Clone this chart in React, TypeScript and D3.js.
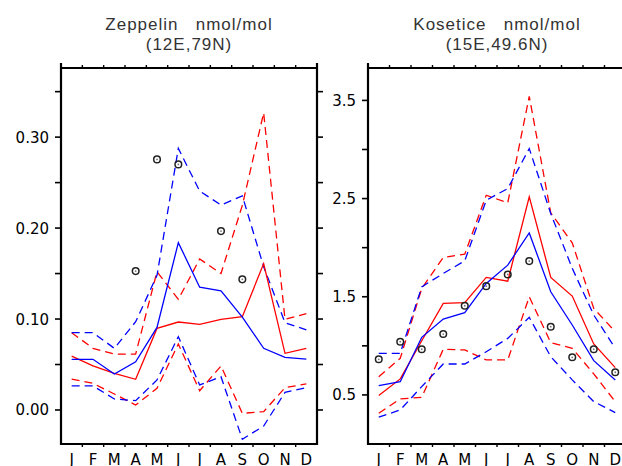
import React from "react";
import * as d3 from "d3";

const months = ["J", "F", "M", "A", "M", "J", "J", "A", "S", "O", "N", "D"];

// Zeppelin (left)
const zepBlue = [0.0557, 0.0557, 0.0396, 0.053, 0.0908, 0.184, 0.135, 0.131, 0.102, 0.0678, 0.0579, 0.056];
const zepRed = [0.0593, 0.0484, 0.0403, 0.0337, 0.0897, 0.0967, 0.0941, 0.0996, 0.1026, 0.161, 0.0623, 0.0678];
const zepBlueHi = [0.085, 0.085, 0.0678, 0.097, 0.148, 0.2876, 0.2407, 0.2253, 0.2355, 0.1575, 0.096, 0.088];
const zepRedHi = [0.085, 0.0678, 0.0615, 0.0615, 0.152, 0.1216, 0.166, 0.15, 0.225, 0.3267, 0.0996, 0.106];
const zepBlueLo = [0.0264, 0.0264, 0.0121, 0.0103, 0.033, 0.0806, 0.0275, 0.0366, -0.0322, -0.0176, 0.0194, 0.0245];
const zepRedLo = [0.034, 0.0293, 0.0176, 0.0055, 0.0238, 0.0725, 0.0212, 0.0484, -0.0037, -0.0018, 0.0245, 0.0286];
const zepObs: (number | null)[] = [null, null, null, 0.1527, 0.2755, 0.27, null, 0.1967, 0.1436, null, null, null];
const zepTicks = [0.0, 0.05, 0.1, 0.15, 0.2, 0.25, 0.3, 0.35];
const zepLabels = ["0.00", "0.10", "0.20", "0.30"];

// Kosetice (right)
const kosBlue = [0.595, 0.635, 1.087, 1.273, 1.337, 1.636, 1.822, 2.15, 1.551, 1.212, 0.849, 0.653];
const kosRed = [0.493, 0.663, 1.052, 1.432, 1.439, 1.697, 1.659, 2.517, 1.697, 1.507, 1.019, 0.778];
const kosBlueHi = [0.924, 0.924, 1.601, 1.737, 1.866, 2.483, 2.602, 3.009, 2.348, 1.789, 1.314, 0.975];
const kosRedHi = [0.686, 0.873, 1.585, 1.9, 1.934, 2.534, 2.456, 3.541, 2.354, 2.049, 1.381, 1.144];
const kosBlueLo = [0.273, 0.347, 0.585, 0.815, 0.815, 0.94, 1.076, 1.29, 0.89, 0.653, 0.432, 0.32];
const kosRedLo = [0.314, 0.459, 0.476, 0.965, 0.958, 0.856, 0.856, 1.5, 1.032, 0.975, 0.714, 0.432];
const kosObs: (number | null)[] = [0.863, 1.042, 0.965, 1.12, 1.408, 1.608, 1.727, 1.863, 1.195, 0.883, 0.965, 0.731];
const kosTicks = [0.5, 1.0, 1.5, 2.0, 2.5, 3.0, 3.5];
const kosLabels = ["0.5", "1.5", "2.5", "3.5"];

const RED = "#ff0000";
const BLUE = "#0000ff";
const FONT = "DejaVu Sans, Verdana, sans-serif";
const TITLE_FONT = "Liberation Sans, Arial, sans-serif";

type PanelProps = {
  x0: number;
  width: number;
  yDomain: [number, number];
  series: { data: number[]; color: string; dashed: boolean }[];
  obs: (number | null)[];
  ticks: number[];
  labels: string[];
  rightTicks: boolean;
  rightAxis: boolean;
  title1: string;
  title2: string;
};

const TOP = 68;
const BOTTOM = 444;

function Panel(p: PanelProps) {
  const x = d3.scaleLinear().domain([0, 12]).range([p.x0, p.x0 + p.width]);
  const y = d3.scaleLinear().domain(p.yDomain).range([BOTTOM, TOP]);
  const line = d3
    .line<number>()
    .x((_, i) => x(i + 0.5))
    .y((d) => y(d));
  const cx = p.x0 + p.width / 2;
  const x1 = p.x0 + p.width;
  return (
    <g>
      <text x={cx} y={30} textAnchor="middle" fontFamily={TITLE_FONT} fontSize={17} letterSpacing={1} fill="#333" style={{ whiteSpace: "pre" }}>
        {p.title1}
      </text>
      <text x={cx} y={50} textAnchor="middle" fontFamily={TITLE_FONT} fontSize={17} letterSpacing={1} fill="#333">
        {p.title2}
      </text>
      {p.series.map((s, i) => (
        <path
          key={i}
          d={line(s.data) || ""}
          fill="none"
          stroke={s.color}
          strokeWidth={1.3}
          strokeDasharray={s.dashed ? "8,5" : undefined}
        />
      ))}
      {p.obs.map((v, i) =>
        v === null ? null : (
          <g key={i}>
            <circle cx={x(i + 0.5)} cy={y(v)} r={3.3} fill="none" stroke="#222" strokeWidth={1.5} />
            <circle cx={x(i + 0.5)} cy={y(v)} r={0.9} fill="#777" />
          </g>
        )
      )}
      {/* frame */}
      <line x1={p.x0} x2={p.x0} y1={TOP - 5} y2={BOTTOM + 1} stroke="#000" strokeWidth={2.2} />
      <line x1={p.x0} x2={Math.min(x1, 640)} y1={TOP} y2={TOP} stroke="#000" strokeWidth={2.2} />
      <line x1={p.x0} x2={Math.min(x1, 640)} y1={BOTTOM} y2={BOTTOM} stroke="#000" strokeWidth={2.2} />
      {p.rightAxis && <line x1={x1} x2={x1} y1={TOP - 5} y2={BOTTOM + 1} stroke="#000" strokeWidth={2.2} />}
      {/* y ticks */}
      {p.ticks.map((t, i) => (
        <g key={i}>
          <line x1={p.x0 - 6} x2={p.x0} y1={y(t)} y2={y(t)} stroke="#000" strokeWidth={1.6} />
          {p.rightTicks && <line x1={x1} x2={x1 + 6} y1={y(t)} y2={y(t)} stroke="#000" strokeWidth={1.6} />}
        </g>
      ))}
      {p.labels.map((l, i) => {
        const v = parseFloat(l);
        return (
          <text key={i} x={p.x0 - 12} y={y(v) + 5.5} textAnchor="end" fontFamily={FONT} fontSize={15} fill="#000">
            {l}
          </text>
        );
      })}
      {/* x ticks */}
      {d3.range(1, 12).map((k) => (
        <g key={k}>
          <line x1={x(k)} x2={x(k)} y1={TOP - 3} y2={TOP} stroke="#000" strokeWidth={1.4} />
          <line x1={x(k)} x2={x(k)} y1={BOTTOM} y2={BOTTOM + 3} stroke="#000" strokeWidth={1.4} />
        </g>
      ))}
      {months.map((m, i) => (
        <text key={i} x={x(i + 0.5)} y={465} textAnchor="middle" fontFamily={FONT} fontSize={15} fill="#000">
          {m}
        </text>
      ))}
    </g>
  );
}

export default function App() {
  const y0L = -0.0374;
  const y1L = 0.376;
  const y0R = 0.0;
  const y1R = 3.83;
  return (
    <svg width={622} height={466} style={{ position: "absolute", left: 0, top: 0, background: "#fff" }}>
      <rect width={622} height={466} fill="#fff" />
      <Panel
        x0={61}
        width={256}
        yDomain={[y0L, y1L]}
        series={[
          { data: zepRedHi, color: RED, dashed: true },
          { data: zepRedLo, color: RED, dashed: true },
          { data: zepBlueHi, color: BLUE, dashed: true },
          { data: zepBlueLo, color: BLUE, dashed: true },
          { data: zepRed, color: RED, dashed: false },
          { data: zepBlue, color: BLUE, dashed: false },
        ]}
        obs={zepObs}
        ticks={zepTicks}
        labels={zepLabels}
        rightTicks={true}
        rightAxis={true}
        title1={"Zeppelin   nmol/mol"}
        title2={"(12E,79N)"}
      />
      <Panel
        x0={368}
        width={258}
        yDomain={[y0R, y1R]}
        series={[
          { data: kosRedHi, color: RED, dashed: true },
          { data: kosRedLo, color: RED, dashed: true },
          { data: kosBlueHi, color: BLUE, dashed: true },
          { data: kosBlueLo, color: BLUE, dashed: true },
          { data: kosRed, color: RED, dashed: false },
          { data: kosBlue, color: BLUE, dashed: false },
        ]}
        obs={kosObs}
        ticks={kosTicks}
        labels={kosLabels}
        rightTicks={false}
        rightAxis={false}
        title1={"Kosetice   nmol/mol"}
        title2={"(15E,49.6N)"}
      />
    </svg>
  );
}
